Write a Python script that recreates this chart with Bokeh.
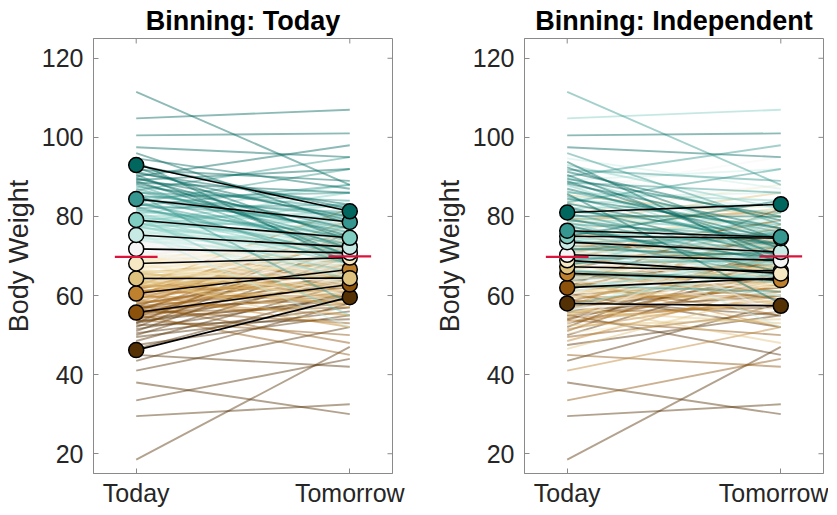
import numpy as np
from bokeh.plotting import figure
from bokeh.layouts import row
from bokeh.models import FixedTicker, Range1d
from bokeh.embed import file_html
from bokeh.resources import INLINE

FONT = "Liberation Sans"

# ---------------- data ----------------
x_labels = ["Today", "Tomorrow"]
x_ticks = [1, 2]
y_ticks = [20, 40, 60, 80, 100, 120]
titles = ["Binning: Today", "Binning: Independent"]
y_label = "Body Weight"

# 10 bin colours, low -> high (BrBG)
bin_colors = ["#543005", "#8c510a", "#bf812d", "#dfc27d", "#f6e8c3",
              "#f5f5f5", "#c7eae5", "#80cdc1", "#35978f", "#01665e"]

# individual subjects: weight today / tomorrow
today = [
    18.5, 29.5, 33.5, 38, 41, 43.5, 45, 46.5, 47.5, 48.5, 49.5, 50, 50.5, 51, 51.5, 52, 52.5, 53, 53, 53.5,
    53.8, 54, 54.3, 54.6, 54.9, 55.1, 55.3, 55.5, 55.7, 55.9, 56.1, 56.3, 56.5, 56.7, 56.9, 57.1, 57.3, 57.5, 57.7, 58,
    58.2, 58.5, 58.8, 59, 59.3, 59.6, 59.9, 60.1, 60.3, 60.5, 60.7, 60.9, 61.1, 61.3, 61.5, 61.7, 61.9, 62.1, 62.3, 62.5,
    62.6, 62.8, 63, 63.2, 63.4, 63.6, 63.8, 64, 64.2, 64.4, 64.6, 64.8, 65, 65.2, 65.4, 65.6, 65.8, 66, 66.1, 66.2,
    66.3, 66.5, 66.7, 66.9, 67.1, 67.3, 67.5, 67.7, 67.9, 68.1, 68.3, 68.5, 68.7, 68.9, 69.1, 69.3, 69.5, 69.7, 69.9, 70,
    70.1, 70.3, 70.5, 70.7, 70.9, 71.1, 71.3, 71.5, 71.7, 71.9, 72.1, 72.3, 72.5, 72.7, 72.9, 73.1, 73.3, 73.5, 73.6, 73.8,
    73.9, 74.1, 74.3, 74.5, 74.6, 74.8, 75, 75.1, 75.3, 75.5, 75.6, 75.8, 76, 76.1, 76.3, 76.5, 76.6, 76.8, 77, 77.2,
    77.3, 77.5, 77.7, 77.9, 78.1, 78.3, 78.5, 78.7, 78.9, 79.1, 79.3, 79.5, 79.7, 79.9, 80.1, 80.3, 80.6, 80.9, 81.2, 81.5,
    81.8, 82.1, 82.4, 82.7, 83, 83.3, 83.6, 83.9, 84.2, 84.5, 84.8, 85.1, 85.4, 85.7, 86, 86.3, 86.6, 87, 87.5, 88,
    88.3, 88.6, 88.9, 89.2, 89.5, 89.8, 90.1, 90.5, 90.9, 91.3, 91.8, 92.4, 93, 93.8, 94.7, 96, 97.5, 100.5, 104.8, 111.5,
]
tomorrow = [
    47, 32.5, 44, 30, 52, 58, 42, 61, 55, 63, 56, 66, 57, 70, 60, 73, 54, 64, 76, 59,
    50, 66, 58, 72, 61, 45, 68, 63, 57, 75, 60, 53, 70, 64, 59, 78, 62, 48, 67, 65,
    62, 70, 55, 74, 66, 60, 79, 64, 68, 52, 71, 67, 63, 76, 58, 69, 73, 65, 82, 61,
    58, 66, 71, 55, 63, 69, 60, 74, 52, 65, 62, 68, 57, 72, 64, 61, 70, 59, 67, 64,
    64, 72, 77, 60, 70, 67, 81, 62, 74, 69, 58, 73, 76, 66, 71, 63, 79, 68, 65, 71,
    68, 74, 63, 79, 71, 66, 76, 60, 73, 70, 82, 65, 72, 69, 77, 62, 75, 67, 80, 71,
    70, 76, 65, 80, 72, 68, 84, 63, 74, 71, 78, 66, 73, 52, 77, 69, 82, 67, 75, 70,
    72, 79, 66, 83, 75, 70, 86, 64, 77, 73, 81, 68, 76, 55, 80, 71, 88, 69, 78, 74,
    75, 83, 70, 88, 79, 73, 92, 68, 81, 77, 86, 72, 80, 58, 84, 76, 95, 74, 82, 70,
    77, 86, 72, 92, 80, 75, 98, 70, 83, 79, 89, 74, 82, 68, 87, 78, 95, 101, 107, 88,
]
# independent grouping variable (0 = lowest bin ... 9 = highest bin)
independent_group = [
    0, 0, 1, 0, 2, 0, 1, 3, 0, 2, 1, 0, 4, 1, 2, 0, 3, 1, 5, 2,
    1, 0, 2, 3, 1, 0, 4, 2, 1, 6, 0, 3, 2, 1, 5, 2, 0, 3, 7, 1,
    2, 1, 0, 4, 3, 2, 5, 1, 3, 0, 6, 2, 4, 1, 3, 7, 2, 5, 0, 8,
    3, 2, 5, 1, 4, 0, 6, 3, 2, 7, 4, 1, 5, 3, 8, 2, 6, 0, 4, 9,
    4, 3, 1, 6, 5, 2, 7, 4, 0, 8, 3, 5, 6, 2, 9, 4, 1, 7, 5, 3,
    5, 4, 7, 2, 6, 3, 8, 5, 1, 9, 4, 6, 0, 7, 5, 3, 8, 2, 6, 4,
    6, 5, 8, 3, 7, 4, 9, 6, 2, 5, 7, 1, 8, 6, 4, 9, 3, 7, 5, 6,
    7, 6, 9, 4, 8, 5, 3, 7, 6, 9, 2, 8, 7, 5, 9, 6, 4, 8, 7, 6,
    8, 7, 9, 5, 6, 9, 8, 4, 7, 9, 6, 8, 3, 9, 7, 8, 5, 9, 6, 7,
    9, 8, 9, 6, 9, 7, 8, 9, 5, 9, 8, 9, 7, 9, 6, 8, 9, 9, 7, 8,
]

# bin means (low -> high bin)
today_bin_today = [46.2, 55.7, 60.5, 64.3, 68.1, 71.8, 75.3, 79.1, 84.4, 93.0]
today_bin_tomorrow = [59.6, 62.8, 66.6, 64.4, 69.6, 70.8, 72.3, 74.6, 78.6, 81.3]
indep_bin_today = [58.0, 62.0, 65.6, 67.3, 68.9, 70.3, 73.5, 75.0, 76.4, 81.0]
indep_bin_tomorrow = [57.4, 64.4, 63.9, 66.2, 65.6, 68.9, 71.0, 74.5, 74.8, 83.1]

# overall means
overall_mean_today = [69.8, 69.8]
overall_mean_tomorrow = [69.9, 69.9]

# ---------------- grouping by today's value ----------------
n = len(today)
order = np.argsort(np.array(today), kind="stable")
today_group = np.empty(n, dtype=int)
today_group[order] = (np.arange(n) * 10) // n

GRAY = "#8a8a8a"
TXT = "#262626"
X0, X1 = 0.8, 2.2
Y0, Y1 = 15, 125


def make_panel(title, groups, bt, bm, mt, mm, min_left, min_right):
    p = figure(frame_width=299, frame_height=435,
               x_range=Range1d(X0, X1), y_range=Range1d(Y0, Y1),
               output_backend="svg", toolbar_location=None,
               min_border_left=min_left, min_border_right=min_right,
               min_border_top=31, min_border_bottom=30)
    p.title.text = title
    p.title.align = "center"
    p.title.text_font = FONT
    p.title.text_font_size = "27px"
    p.title.text_font_style = "bold"
    p.title.text_color = "black"
    p.title.standoff = 6
    p.title.offset = 0
    p.grid.visible = False
    p.outline_line_color = GRAY
    p.outline_line_width = 1
    p.background_fill_color = "white"
    p.border_fill_color = "white"

    # individual lines, ordered by group so high bins are drawn on top
    idx = sorted(range(n), key=lambda i: groups[i])
    xs = [[x_ticks[0], x_ticks[1]] for _ in idx]
    ys = [[today[i], tomorrow[i]] for i in idx]
    cols = [bin_colors[groups[i]] for i in idx]
    p.multi_line(xs=xs, ys=ys, line_color=cols, line_alpha=0.45, line_width=1.9)

    # bin means
    for k in range(10):
        p.segment(x0=[x_ticks[0]], y0=[bt[k]], x1=[x_ticks[1]], y1=[bm[k]],
                  line_color="black", line_width=1.6)
        p.scatter(x=x_ticks, y=[bt[k], bm[k]], size=15, fill_color=bin_colors[k],
                  line_color="black", line_width=1.5)

    # overall means
    p.segment(x0=[x_ticks[0] - 0.1, x_ticks[1] - 0.1], y0=[mt, mm],
              x1=[x_ticks[0] + 0.1, x_ticks[1] + 0.1], y1=[mt, mm],
              line_color="#dc143c", line_width=2.2)

    # mirrored tick marks on the right and top edges of the box
    p.ray(x=[X1] * len(y_ticks), y=y_ticks, length=5, length_units="screen",
          angle=np.pi, line_color=GRAY, line_width=1)
    p.ray(x=x_ticks, y=[Y1] * len(x_ticks), length=5, length_units="screen",
          angle=-np.pi / 2, line_color=GRAY, line_width=1)

    # axes
    xa = p.xaxis[0]
    xa.ticker = FixedTicker(ticks=x_ticks)
    xa.major_label_overrides = {x_ticks[0]: x_labels[0], x_ticks[1]: x_labels[1]}
    ya = p.yaxis[0]
    ya.ticker = FixedTicker(ticks=y_ticks)
    ya.axis_label = y_label
    for ax in (xa, ya):
        ax.axis_line_color = GRAY
        ax.major_tick_line_color = GRAY
        ax.major_tick_in = 5
        ax.major_tick_out = 0
        ax.minor_tick_line_color = None
        ax.major_label_text_font = FONT
        ax.major_label_text_font_size = "25px"
        ax.major_label_text_color = TXT
        ax.axis_label_text_font = FONT
        ax.axis_label_text_font_size = "27px"
        ax.axis_label_text_font_style = "normal"
        ax.axis_label_text_color = TXT
    xa.major_label_standoff = 5
    ya.major_label_standoff = 10
    ya.axis_label_standoff = 5
    return p


p1 = make_panel(titles[0], list(today_group), today_bin_today, today_bin_tomorrow,
                overall_mean_today[0], overall_mean_tomorrow[0], 85, 39)
p2 = make_panel(titles[1], independent_group, indep_bin_today, indep_bin_tomorrow,
                overall_mean_today[1], overall_mean_tomorrow[1], 85, 5)

layout = row(p1, p2, spacing=0)
open("out.html", "w").write(file_html(layout, INLINE))
